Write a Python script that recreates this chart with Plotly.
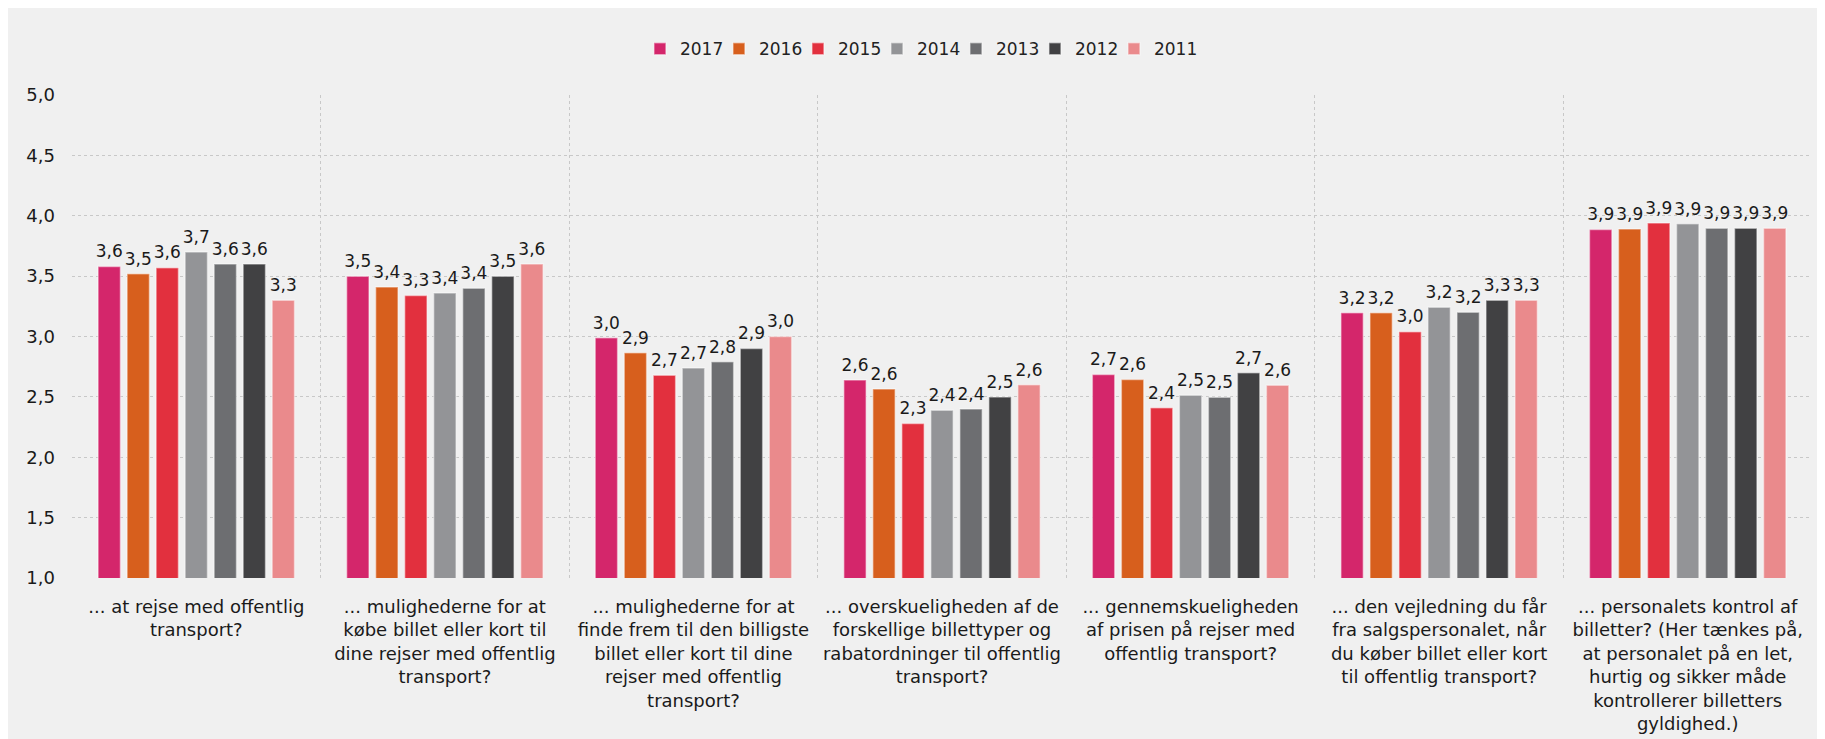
import plotly.graph_objects as go

categories = [
    "... at rejse med offentlig<br>transport?",
    "... mulighederne for at<br>købe billet eller kort til<br>dine rejser med offentlig<br>transport?",
    "... mulighederne for at<br>finde frem til den billigste<br>billet eller kort til dine<br>rejser med offentlig<br>transport?",
    "... overskueligheden af de<br>forskellige billettyper og<br>rabatordninger til offentlig<br>transport?",
    "... gennemskueligheden<br>af prisen på rejser med<br>offentlig transport?",
    "... den vejledning du får<br>fra salgspersonalet, når<br>du køber billet eller kort<br>til offentlig transport?",
    "... personalets kontrol af<br>billetter? (Her tænkes på,<br>at personalet på en let,<br>hurtig og sikker måde<br>kontrollerer billetters<br>gyldighed.)",
]

years = ["2017", "2016", "2015", "2014", "2013", "2012", "2011"]

v2017 = [3.58, 3.50, 2.99, 2.64, 2.685, 3.196, 3.887]
v2016 = [3.52, 3.41, 2.865, 2.565, 2.644, 3.196, 3.89]
v2015 = [3.57, 3.34, 2.68, 2.28, 2.41, 3.04, 3.94]
v2014 = [3.70, 3.36, 2.74, 2.39, 2.514, 3.243, 3.934]
v2013 = [3.60, 3.40, 2.79, 2.40, 2.497, 3.20, 3.896]
v2012 = [3.60, 3.50, 2.90, 2.50, 2.70, 3.30, 3.896]
v2011 = [3.30, 3.60, 3.00, 2.60, 2.597, 3.30, 3.896]

series = [v2017, v2016, v2015, v2014, v2013, v2012, v2011]
colors = ["#D4266B", "#D75F1D", "#E2303E", "#939497", "#6D6E71", "#414143", "#EA8A8C"]

y_ticks = [1.0, 1.5, 2.0, 2.5, 3.0, 3.5, 4.0, 4.5, 5.0]

x_pos = list(range(len(categories)))
boundaries = [i - 0.5 for i in range(len(categories) + 1)]

BG = "#F0F0F0"
FONT = "DejaVu Sans"

fig = go.Figure()
for name, vals, col in zip(years, series, colors):
    fig.add_trace(go.Bar(
        name=name,
        x=x_pos,
        y=vals,
        marker=dict(color=col, line=dict(color="rgba(255,255,255,0.45)", width=1.5)),
        texttemplate="<span style='font-size:17px'>%{y:.1f}</span><br><span style='color:rgba(0,0,0,0)'>.</span>",
        textposition="outside",
        textfont=dict(family=FONT, size=4, color="#1a1a1a"),
        constraintext="none",
        cliponaxis=False,
        hoverinfo="skip",
    ))

# invisible legend spacer so the last legend label is not clipped
fig.add_trace(go.Scatter(
    x=[None], y=[None], mode="markers", name=" ",
    marker=dict(color="rgba(0,0,0,0)", size=1),
    hoverinfo="skip", showlegend=True,
))

fig.update_layout(
    width=1817,
    height=731,
    paper_bgcolor=BG,
    plot_bgcolor=BG,
    barmode="group",
    bargap=0.183,
    bargroupgap=0.228,
    separators=",.",
    margin=dict(l=64, r=13, t=87, b=161, autoexpand=False),
    showlegend=True,
    legend=dict(
        orientation="h",
        x=0.3264,
        xanchor="left",
        y=1.095,
        yanchor="middle",
        font=dict(family=FONT, size=17, color="#222222"),
        itemwidth=30,
        entrywidth=34,
        entrywidthmode="pixels",
        traceorder="normal",
        bgcolor="rgba(0,0,0,0)",
    ),
    xaxis=dict(
        range=[-0.5, len(categories) - 0.5],
        tickmode="array",
        tickvals=x_pos,
        ticktext=categories,
        tickangle=0,
        automargin=False,
        showgrid=False,
        zeroline=False,
        showline=False,
        ticks="",
        ticklabelstandoff=16,
        tickfont=dict(family=FONT, size=18, color="#1a1a1a"),
        minor=dict(
            tickmode="array",
            tickvals=boundaries,
            showgrid=True,
            gridcolor="#C8C8C8",
            griddash="dot",
            gridwidth=1,
            ticks="",
        ),
    ),
    yaxis=dict(
        range=[1, 5],
        tickmode="array",
        tickvals=y_ticks,
        tickformat=".1f",
        automargin=False,
        showgrid=True,
        gridcolor="#C8C8C8",
        griddash="dot",
        gridwidth=1,
        zeroline=False,
        showline=False,
        ticks="",
        ticklabelstandoff=16,
        tickfont=dict(family=FONT, size=18, color="#1a1a1a"),
    ),
)

fig.write_html("out.html")
